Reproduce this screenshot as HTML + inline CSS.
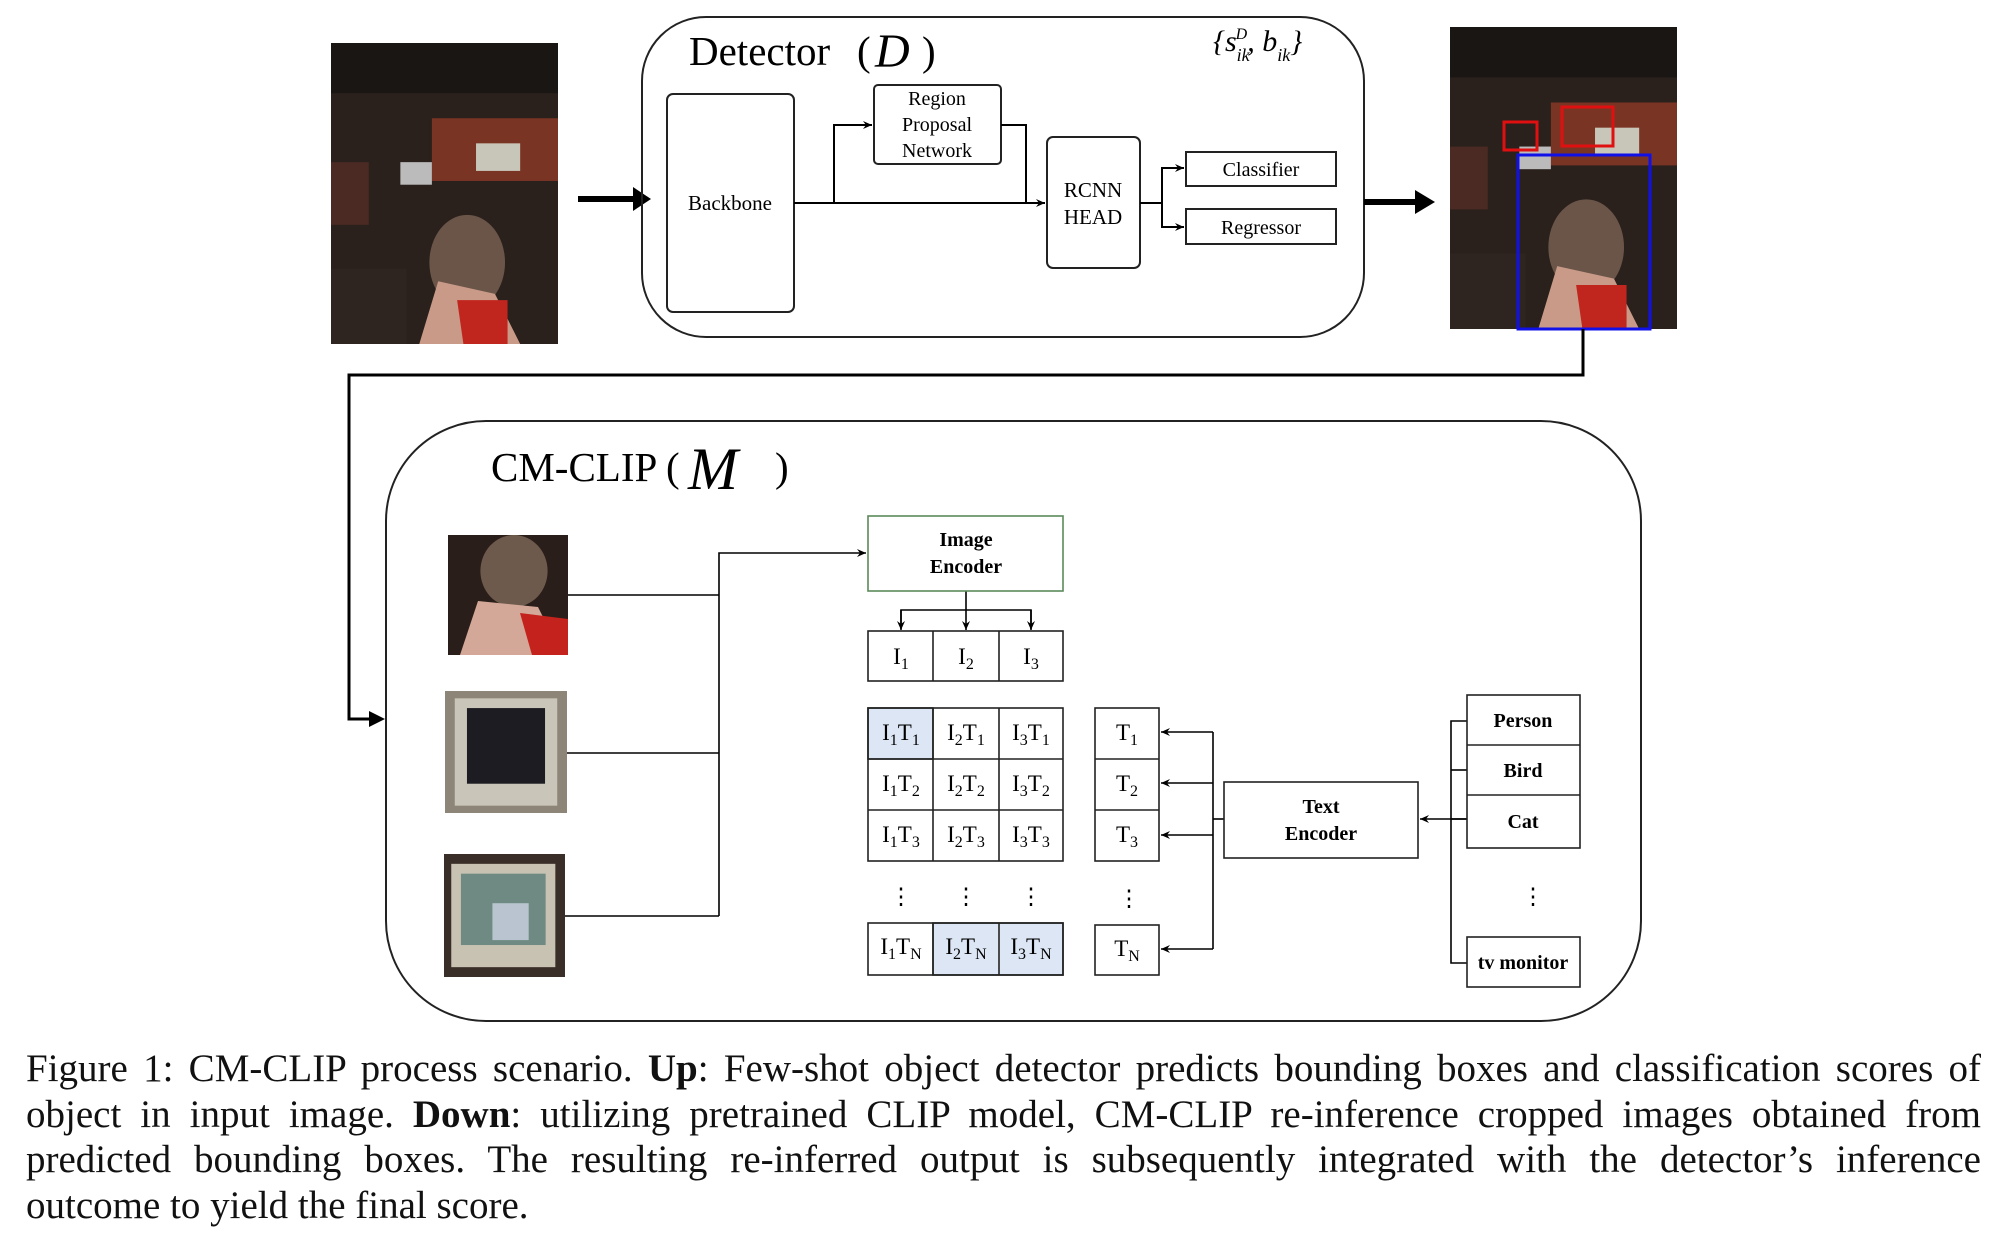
<!DOCTYPE html>
<html><head><meta charset="utf-8"><style>
html,body{margin:0;padding:0;background:#fff;}
body{width:2000px;height:1242px;position:relative;overflow:hidden;font-family:"Liberation Serif",serif;}
svg{position:absolute;left:0;top:0;}
.cap{position:absolute;left:26px;top:1046px;width:1955px;font-size:39px;line-height:45.5px;color:#111;}
.cap div{text-align:justify;text-align-last:justify;white-space:nowrap;}
.cap div.last{text-align-last:left;}
</style></head><body>
<svg width="2000" height="1242" viewBox="0 0 2000 1242" font-family="Liberation Serif, serif">
<defs>
<marker id="a" markerWidth="10" markerHeight="10" refX="9" refY="5" orient="auto" markerUnits="userSpaceOnUse"><path d="M0,1 L9,5 L0,9 L3,5z" fill="#000"/></marker>
<symbol id="bar" viewBox="0 0 180 240" preserveAspectRatio="none">
<rect width="180" height="240" fill="#2a201c"/>
<rect x="0" y="0" width="180" height="40" fill="#1a1614"/>
<rect x="80" y="60" width="100" height="50" fill="#7a3424"/>
<rect x="115" y="80" width="35" height="22" fill="#c8c6b8"/>
<rect x="55" y="95" width="25" height="18" fill="#bbb"/>
<rect x="0" y="95" width="30" height="50" fill="#4a2a22"/>
<ellipse cx="108" cy="175" rx="30" ry="38" fill="#6a5548"/>
<path d="M70,240 L85,190 L130,200 L150,240z" fill="#c99a88"/>
<path d="M100,205 L140,205 L140,240 L105,240z" fill="#c0261e"/>
<rect x="0" y="180" width="60" height="60" fill="#2e2520"/>
</symbol>
<symbol id="pers" viewBox="0 0 100 100" preserveAspectRatio="none">
<rect width="100" height="100" fill="#2a1e1a"/>
<ellipse cx="55" cy="30" rx="28" ry="30" fill="#6e5a4c"/>
<path d="M10,100 L25,55 L75,60 L95,100z" fill="#d4a898"/>
<path d="M60,65 L100,70 L100,100 L70,100z" fill="#c4221c"/>
</symbol>
<symbol id="tv1" viewBox="0 0 100 100" preserveAspectRatio="none">
<rect width="100" height="100" fill="#8c8578"/>
<rect x="8" y="6" width="84" height="88" fill="#c9c5b8"/>
<rect x="18" y="14" width="64" height="62" fill="#1c1c22"/>
</symbol>
<symbol id="tv2" viewBox="0 0 100 100" preserveAspectRatio="none">
<rect width="100" height="100" fill="#3a2e28"/>
<rect x="6" y="8" width="86" height="84" fill="#c7c2b2"/>
<rect x="14" y="16" width="70" height="58" fill="#6e8a82"/>
<rect x="40" y="40" width="30" height="30" fill="#b9c4d0"/>
</symbol>
</defs>
<g transform="translate(-5,-1)">
<use href="#bar" x="336" y="44" width="227" height="301"/>
<line x1="583" y1="200" x2="648" y2="200" stroke="#000" stroke-width="6"/>
<path d="M638,188 L656,200 L638,212z" fill="#000"/>

<rect x="647" y="18" width="722" height="320" rx="64" fill="none" stroke="#222" stroke-width="2"/>
<text x="694" y="66" font-size="41">Detector</text>
<text x="862" y="66" font-size="41">(</text>
<text x="880" y="68" font-size="48" font-style="italic">D</text>
<text x="927" y="66" font-size="41">)</text>
<text x="1218" y="52" font-size="30" font-style="italic">{s<tspan font-size="18" dy="10">ik</tspan><tspan font-size="16" dx="-14" dy="-22">D</tspan><tspan dy="12">, b</tspan><tspan font-size="18" dy="10">ik</tspan><tspan dy="-10">}</tspan></text>

<rect x="672" y="95" width="127" height="218" rx="6" fill="none" stroke="#222" stroke-width="2"/>
<text x="735" y="211" font-size="21" text-anchor="middle">Backbone</text>
<rect x="879" y="86" width="127" height="79" rx="4" fill="none" stroke="#222" stroke-width="2"/>
<text x="942" y="106" font-size="20" text-anchor="middle">Region</text>
<text x="942" y="132" font-size="20" text-anchor="middle">Proposal</text>
<text x="942" y="158" font-size="20" text-anchor="middle">Network</text>
<rect x="1052" y="138" width="93" height="131" rx="6" fill="none" stroke="#222" stroke-width="2"/>
<text x="1098" y="198" font-size="21" text-anchor="middle">RCNN</text>
<text x="1098" y="225" font-size="21" text-anchor="middle">HEAD</text>
<rect x="1191" y="153" width="150" height="34" fill="none" stroke="#222" stroke-width="2"/>
<text x="1266" y="177" font-size="20" text-anchor="middle">Classifier</text>
<rect x="1191" y="210" width="150" height="35" fill="none" stroke="#222" stroke-width="2"/>
<text x="1266" y="235" font-size="20" text-anchor="middle">Regressor</text>
<g stroke="#000" stroke-width="2" fill="none">
<line x1="799" y1="204" x2="1050" y2="204" marker-end="url(#a)"/>
<polyline points="839,204 839,126 877,126" marker-end="url(#a)"/>
<polyline points="1006,126 1031,126 1031,204"/>
<line x1="1145" y1="204" x2="1167" y2="204"/>
<polyline points="1167,228 1167,169 1189,169" marker-end="url(#a)"/>
<polyline points="1167,204 1167,228 1189,228" marker-end="url(#a)"/>
</g>
<line x1="1369" y1="203" x2="1428" y2="203" stroke="#000" stroke-width="6"/>
<path d="M1420,191 L1440,203 L1420,215z" fill="#000"/>

<use href="#bar" x="1455" y="28" width="227" height="302"/>
<rect x="1509" y="123" width="33" height="28" fill="none" stroke="#e01010" stroke-width="3"/>
<rect x="1567" y="108" width="51" height="39" fill="none" stroke="#e01010" stroke-width="3"/>
<rect x="1523" y="156" width="132" height="174" fill="none" stroke="#1010e8" stroke-width="3"/>

<polyline points="1588,330 1588,376 354,376 354,720 380,720" fill="none" stroke="#000" stroke-width="3"/>
<path d="M374,712 L390,720 L374,728z" fill="#000"/>

<rect x="391" y="422" width="1255" height="600" rx="100" fill="none" stroke="#222" stroke-width="2"/>
<text x="496" y="482" font-size="41">CM-CLIP (</text>
<text x="693" y="490" font-size="60" font-style="italic">M</text>
<text x="780" y="482" font-size="41">)</text>

<use href="#pers" x="453" y="536" width="120" height="120"/>
<use href="#tv1" x="450" y="692" width="122" height="122"/>
<use href="#tv2" x="449" y="855" width="121" height="123"/>
<g stroke="#000" stroke-width="1.6" fill="none">
<line x1="573" y1="596" x2="724" y2="596"/>
<line x1="572" y1="754" x2="724" y2="754"/>
<line x1="570" y1="917" x2="724" y2="917"/>
<polyline points="724,917 724,554 871,554" marker-end="url(#a)"/>
<polyline points="971,592 971,611"/>
<polyline points="906,630 906,611 1036,611 1036,630"/>
<line x1="906" y1="611" x2="906" y2="631" marker-end="url(#a)"/>
<line x1="971" y1="611" x2="971" y2="631" marker-end="url(#a)"/>
<line x1="1036" y1="611" x2="1036" y2="631" marker-end="url(#a)"/>
<polyline points="1218,733 1218,950"/>
<line x1="1218" y1="733" x2="1166" y2="733" marker-end="url(#a)"/>
<line x1="1218" y1="784" x2="1166" y2="784" marker-end="url(#a)"/>
<line x1="1218" y1="836" x2="1166" y2="836" marker-end="url(#a)"/>
<line x1="1218" y1="950" x2="1166" y2="950" marker-end="url(#a)"/>
<line x1="1218" y1="820" x2="1229" y2="820"/>
<polyline points="1472,722 1456,722 1456,964 1472,964"/>
<line x1="1456" y1="771" x2="1472" y2="771"/>
<line x1="1456" y1="820" x2="1472" y2="820"/>
<line x1="1472" y1="820" x2="1425" y2="820" marker-end="url(#a)"/>
</g>
<rect x="873" y="517" width="195" height="75" fill="none" stroke="#5a8a5a" stroke-width="1.6"/>
<text x="971" y="547" font-size="20" font-weight="bold" text-anchor="middle">Image</text>
<text x="971" y="574" font-size="20" font-weight="bold" text-anchor="middle">Encoder</text>

<g stroke="#222" stroke-width="1.6">
<rect x="873" y="632" width="195" height="50" fill="none"/>
<line x1="938" y1="632" x2="938" y2="682"/><line x1="1004" y1="632" x2="1004" y2="682"/>
<rect x="873" y="709" width="65" height="51" fill="#dce6f4"/>
<rect x="873" y="709" width="195" height="153" fill="none"/>
<line x1="938" y1="709" x2="938" y2="862"/><line x1="1004" y1="709" x2="1004" y2="862"/>
<line x1="873" y1="760" x2="1068" y2="760"/><line x1="873" y1="811" x2="1068" y2="811"/>
<rect x="938" y="924" width="130" height="52" fill="#dce6f4"/>
<rect x="873" y="924" width="195" height="52" fill="none"/>
<line x1="938" y1="924" x2="938" y2="976"/><line x1="1004" y1="924" x2="1004" y2="976"/>
<rect x="1100" y="709" width="64" height="153" fill="none"/>
<line x1="1100" y1="760" x2="1164" y2="760"/><line x1="1100" y1="811" x2="1164" y2="811"/>
<rect x="1100" y="926" width="64" height="50" fill="none"/>
<rect x="1229" y="783" width="194" height="76" fill="none"/>
<rect x="1472" y="696" width="113" height="153" fill="none"/>
<line x1="1472" y1="746" x2="1585" y2="746"/><line x1="1472" y1="796" x2="1585" y2="796"/>
<rect x="1472" y="938" width="113" height="50" fill="none"/>
</g>
<g font-size="23" text-anchor="middle">
<text x="906" y="665">I<tspan font-size="16" dy="5">1</tspan></text>
<text x="971" y="665">I<tspan font-size="16" dy="5">2</tspan></text>
<text x="1036" y="665">I<tspan font-size="16" dy="5">3</tspan></text>
<text x="906" y="741">I<tspan font-size="16" dy="5">1</tspan><tspan dy="-5">T</tspan><tspan font-size="16" dy="5">1</tspan></text>
<text x="971" y="741">I<tspan font-size="16" dy="5">2</tspan><tspan dy="-5">T</tspan><tspan font-size="16" dy="5">1</tspan></text>
<text x="1036" y="741">I<tspan font-size="16" dy="5">3</tspan><tspan dy="-5">T</tspan><tspan font-size="16" dy="5">1</tspan></text>
<text x="906" y="792">I<tspan font-size="16" dy="5">1</tspan><tspan dy="-5">T</tspan><tspan font-size="16" dy="5">2</tspan></text>
<text x="971" y="792">I<tspan font-size="16" dy="5">2</tspan><tspan dy="-5">T</tspan><tspan font-size="16" dy="5">2</tspan></text>
<text x="1036" y="792">I<tspan font-size="16" dy="5">3</tspan><tspan dy="-5">T</tspan><tspan font-size="16" dy="5">2</tspan></text>
<text x="906" y="843">I<tspan font-size="16" dy="5">1</tspan><tspan dy="-5">T</tspan><tspan font-size="16" dy="5">3</tspan></text>
<text x="971" y="843">I<tspan font-size="16" dy="5">2</tspan><tspan dy="-5">T</tspan><tspan font-size="16" dy="5">3</tspan></text>
<text x="1036" y="843">I<tspan font-size="16" dy="5">3</tspan><tspan dy="-5">T</tspan><tspan font-size="16" dy="5">3</tspan></text>
<text x="906" y="955">I<tspan font-size="16" dy="5">1</tspan><tspan dy="-5">T</tspan><tspan font-size="16" dy="5">N</tspan></text>
<text x="971" y="955">I<tspan font-size="16" dy="5">2</tspan><tspan dy="-5">T</tspan><tspan font-size="16" dy="5">N</tspan></text>
<text x="1036" y="955">I<tspan font-size="16" dy="5">3</tspan><tspan dy="-5">T</tspan><tspan font-size="16" dy="5">N</tspan></text>
<text x="1132" y="741">T<tspan font-size="16" dy="5">1</tspan></text>
<text x="1132" y="792">T<tspan font-size="16" dy="5">2</tspan></text>
<text x="1132" y="843">T<tspan font-size="16" dy="5">3</tspan></text>
<text x="1132" y="957">T<tspan font-size="16" dy="5">N</tspan></text>
<text x="906" y="905">⋮</text><text x="971" y="905">⋮</text><text x="1036" y="905">⋮</text>
<text x="1134" y="907">⋮</text><text x="1538" y="905">⋮</text>
</g>
<g font-size="20" font-weight="bold" text-anchor="middle">
<text x="1326" y="814">Text</text>
<text x="1326" y="841">Encoder</text>
<text x="1528" y="728">Person</text>
<text x="1528" y="778">Bird</text>
<text x="1528" y="829">Cat</text>
<text x="1528" y="970">tv monitor</text>
</g>
</g>
</svg>
<div class="cap">
<div>Figure 1: CM-CLIP process scenario. <b>Up</b>: Few-shot object detector predicts bounding boxes and classification scores of</div>
<div>object in input image. <b>Down</b>: utilizing pretrained CLIP model, CM-CLIP re-inference cropped images obtained from</div>
<div>predicted bounding boxes. The resulting re-inferred output is subsequently integrated with the detector’s inference</div>
<div class="last">outcome to yield the final score.</div>
</div>
</body></html>
